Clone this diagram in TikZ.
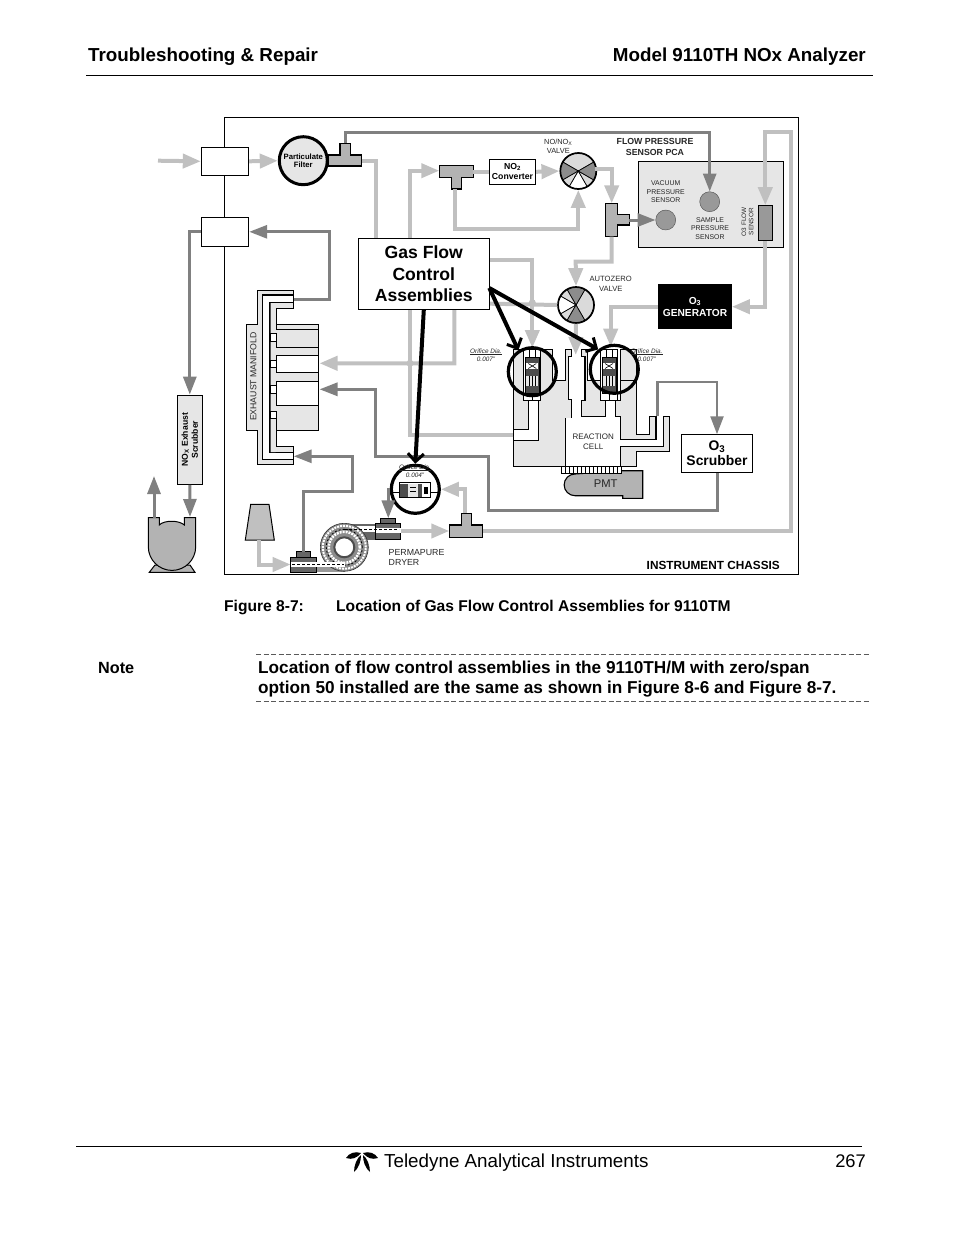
\documentclass[tikz,border=0pt]{standalone}
\usepackage{fontspec}
\setmainfont{Liberation Sans}
\usetikzlibrary{arrows.meta}
\definecolor{lgpipe}{HTML}{C0C0C0}
\definecolor{dkpipe}{HTML}{808080}
\definecolor{panel}{HTML}{E6E6E6}
\definecolor{fitting}{HTML}{B3B3B3}
\definecolor{sensor}{HTML}{999999}
\definecolor{valvedk}{HTML}{8C8C8C}
\definecolor{valvelt}{HTML}{DADADA}
\newcommand{\fs}[1]{\fontsize{#1}{#1}\selectfont}
\tikzset{
 lgline/.style={lgpipe,line width=4pt},
 dkline/.style={dkpipe,line width=3pt},
 lgflow/.style={lgline,-{Triangle[length=18pt,width=14pt]}},
 dkflow/.style={dkline,-{Triangle[length=18pt,width=13pt]}},
 callout/.style={black,line width=4pt,-{Straight Barb[length=8pt,width=16pt,line width=3pt]}},
 boxnode/.style={draw,fill=white,line width=.9pt,inner sep=0pt,align=center},
 lbl/.style={inner sep=0pt,align=center,text=black!85},
 tee/.style={draw,fill=fitting,line width=1.3pt},
 valve/.style={circle,draw,line width=1.7pt,inner sep=0pt,minimum size=36pt},
 orifice/.style={circle,draw,line width=3.2pt,inner sep=0pt,minimum size=48pt},
 gauge/.style={circle,draw=black!70,fill=sensor,inner sep=0pt,minimum size=20pt},
 body/.style={draw,fill=panel,line width=.9pt},
}
\begin{document}
\begin{tikzpicture}[x=1pt,y=-1pt]
\useasboundingbox (0,0) rectangle (954,1235);
%
% page furniture
\node[anchor=base west,inner sep=0pt,font=\bfseries\fs{18.8}] (headl) at (88,61) {Troubleshooting \& Repair};
\node[anchor=base east,inner sep=0pt,font=\bfseries\fs{18.8}] (headr) at (866,61) {Model 9110TH NOx Analyzer};
\coordinate (rulea) at (86,75.5);
\coordinate (ruleb) at (873,75.5);
\draw[line width=1.4pt] (rulea)--(ruleb);
\node[anchor=base west,inner sep=0pt,font=\bfseries\fs{15.6}] (figno) at (224,611.5) {Figure 8-7:};
\node[anchor=base west,inner sep=0pt,font=\bfseries\fs{15.6}] (figcap) at (336,611.5) {Location of Gas Flow Control Assemblies for 9110TM};
\node[anchor=base west,inner sep=0pt,font=\bfseries\fs{16.2}] (notehd) at (98,673) {Note};
\node[anchor=base west,inner sep=0pt,font=\bfseries\fs{17.2}] (notea) at (258,673) {Location of flow control assemblies in the 9110TH/M with zero/span};
\node[anchor=base west,inner sep=0pt,font=\bfseries\fs{17.2}] (noteb) at (258,693) {option 50 installed are the same as shown in Figure 8-6 and Figure 8-7.};
\foreach \y in {654.5,701.5}
\draw[black!65,line width=.7pt,dash pattern=on 5pt off 2.5pt] (256,\y)--(870,\y);
\coordinate (foota) at (76,1146.5);
\coordinate (footb) at (862,1146.5);
\draw[line width=1pt] (foota)--(footb);
\node[anchor=base west,inner sep=0pt,font=\fs{18.8}] (footl) at (384,1167.5) {Teledyne Analytical Instruments};
\node[anchor=base east,inner sep=0pt,font=\fs{18.3}] (footn) at (866,1167.5) {267};
% logo
\foreach \s in {1,-1}{
\fill[black] (362+\s*1,1153) .. controls (362+\s*7,1151) and (362+\s*13,1153) .. (362+\s*16,1158) .. controls (362+\s*10,1160) and (362+\s*5,1158) .. cycle;
\fill[black] (362+\s*1,1155) .. controls (362+\s*5,1158) and (362+\s*8,1165) .. (362+\s*8,1172) .. controls (362+\s*3,1168) and (362+\s*1,1161) .. cycle;
}
%
% chassis
\draw[line width=1pt] (224.5,117.5) rectangle (798.5,574.3);
\node[anchor=base east,inner sep=0pt,font=\bfseries\fs{11.8}] (chassis) at (780,569) {INSTRUMENT CHASSIS};
%
\node[boxnode,minimum width=47.5pt,minimum height=28pt] (intake) at (225,161.3) {};
\node[boxnode,minimum width=47.5pt,minimum height=29pt] (exhbox) at (225,231.8) {};
\node[circle,draw,fill=panel,line width=3pt,inner sep=0pt,minimum size=48pt,font=\bfseries\fs{7.7},align=center] (filter) at (303.3,160.7) {Particulate\\[1pt]Filter};
\node[boxnode,minimum width=46.4pt,minimum height=25pt,font=\bfseries\fs{8.7}] (noconv) at (512.5,171.8) {NO\textsubscript{2}\\[1.5pt]Converter};
\node[body,line width=1.3pt,minimum width=145pt,minimum height=85.6pt,inner sep=0pt] (pca) at (710.8,204.5) {};
\node[gauge] (vacuum) at (665.7,220) {};
\node[gauge] (sample) at (709.7,201.7) {};
\node[draw,fill=sensor,line width=1pt,minimum width=14pt,minimum height=34.6pt,inner sep=0pt] (flowsen) at (765.3,223) {};
\node[fill=black,text=white,minimum width=73.4pt,minimum height=45.3pt,inner sep=0pt,align=center,font=\bfseries\fs{10.2}] (ozgen) at (695,306.7) {O\textsubscript{3}\\[2pt]GENERATOR};
\node[boxnode,minimum width=70.6pt,minimum height=37.6pt,font=\bfseries\fs{13.9}] (ozscrub) at (717,453.5) {O\textsubscript{3}\\[1.5pt]Scrubber};
\node[boxnode,fill=panel,rotate=90,minimum width=89.3pt,minimum height=25pt,font=\bfseries\fs{8.6}] (scrubber) at (189.8,439.7) {NO\textsubscript{X} Exhaust\\[1.5pt]Scrubber};
%
% text on the sensors and valves
\foreach \n/\x/\y/\t in {
 vactxt/665.7/192/VACUUM\\[1.6pt]PRESSURE\\[1.6pt]SENSOR,
 samtxt/710/228.3/SAMPLE\\[1.6pt]PRESSURE\\[1.6pt]SENSOR}
\node[lbl,font=\fs{6.9}] (\n) at (\x,\y) {\t};
\node[lbl,font=\fs{6.4},rotate=90] (flowtxt) at (747.5,221.7) {O3 FLOW\\[1pt]SENSOR};
\node[lbl,font=\fs{7.4}] (novtxt) at (558.3,146) {NO/NO\textsubscript{X}\\[1.5pt]VALVE};
\node[lbl,font=\bfseries\fs{8.8}] (pcatxt) at (655,147) {FLOW PRESSURE\\[2.2pt]SENSOR PCA};
\node[lbl,font=\fs{7.6}] (aztxt) at (610.7,284) {AUTOZERO\\[2.5pt]VALVE};
\node[anchor=west,lbl,align=left,font=\fs{8.8}] (permtxt) at (388.5,557.5) {PERMAPURE\\[1.2pt]DRYER};
%
% valves
\coordinate (novc) at (578.3,171);
\coordinate (azvc) at (576,305);
\foreach \a/\b/\c in {30/150/valvelt,150/210/valvedk,210/240/valvelt,240/300/white,300/330/valvelt,330/390/valvedk}
\filldraw[fill=\c,draw=black,line width=.7pt] (novc)--+(\a:18pt) arc[start angle=\a,end angle=\b,radius=18pt]--cycle;
\foreach \a/\b/\c in {-60/60/valvelt,60/120/valvedk,120/150/valvelt,150/210/white,210/240/valvelt,240/300/valvedk}
\filldraw[fill=\c,draw=black,line width=.7pt] (azvc)--+(\a:18pt) arc[start angle=\a,end angle=\b,radius=18pt]--cycle;
\node[valve] (novalve) at (novc) {};
\node[valve] (azvalve) at (azvc) {};
%
% tee fittings
\draw[tee] (328.3,155)--(340,155)--(340,143.3)--(350.7,143.3)--(350.7,155)--(361.7,155)--(361.7,166)--(328.3,166)--cycle;
\draw[tee] (439.3,165.7)--(473.3,165.7)--(473.3,177.3)--(461.7,177.3)--(461.7,189)--(451.7,189)--(451.7,177.3)--(439.3,177.3)--cycle;
\draw[tee] (605.7,203.3)--(617.7,203.3)--(617.7,214.3)--(629.3,214.3)--(629.3,225)--(617.7,225)--(617.7,236.7)--(605.7,236.7)--cycle;
\draw[tee] (449.3,525)--(461.7,525)--(461.7,513.3)--(471.7,513.3)--(471.7,525)--(482.7,525)--(482.7,537.7)--(449.3,537.7)--cycle;
\foreach \n/\x/\y in {teeat/345/143.3,teear/361.7/160.7,teebl/439.3/170.7,teebr/473.3/171.8,teebb/455/189,teect/611.7/203.3,teecr/629.3/220,teecb/611.7/236.7,teedl/449.3/531,teedr/482.7/531,teedt/465/513.3}
\coordinate (\n) at (\x,\y);
%
% manifold
\begin{scope}[line width=.9pt]
\draw[fill=panel] (257.7,290.7)--(293.3,290.7)--(293.3,308)--(276,308)--(276,324)--(318.3,324)--(318.3,430)--(276,430)--(276,446.7)--(293.3,446.7)--(293.3,464)--(257.3,464)--(257.3,430)--(246.7,430)--(246.7,324)--(257.7,324)--cycle;
\draw[fill=white,line width=1.2pt] (262.7,295)--(293.3,295)--(293.3,302.3)--(270,302.3)--(270,452.7)--(293.3,452.7)--(293.3,459.3)--(262.7,459.3)--cycle;
\fill[panel] (270.5,303)--(292.8,303)--(292.8,307.5)--(275.5,307.5)--(275.5,452)--(270.5,452)--cycle;
\foreach \a/\b in {355.7/372.3,381.7/405.7}
\fill[white] (276.5,\a) rectangle (317.8,\b);
\foreach \a/\b in {333.3/341.7,360/367.7,385/393.3,411.7/418.3}
\draw[fill=white] (270,\a) rectangle (276,\b);
\foreach \y in {329,347.3,355.7,381.7,405.7}
\draw (276,\y)--(318.3,\y);
\draw[line width=1.5pt] (276,372.3)--(318.3,372.3);
\foreach \a/\b in {308/329,341.7/347.3,355.7/360,367.7/372.3,381.7/385,393.3/405.7,418.3/430}
\draw (276,\a)--(276,\b);
\end{scope}
\node[lbl,font=\fs{8.7},rotate=90] (mantxt) at (253.3,376.7) {EXHAUST MANIFOLD};
\coordinate (mantop) at (293.7,299);
\coordinate (manbot) at (293.7,456.3);
\coordinate (manlg) at (319.5,363.3);
\coordinate (mandk) at (319.5,389.3);
%
% pump and funnel
\draw[body,fill=fitting,line width=1pt] (155,565)--(149.3,572.3)--(195,572.3)--(190,565)--cycle;
\draw[body,fill=fitting,line width=1pt] (148.3,517.7)--(159.3,517.7)--(159.3,525) .. controls (164,520) and (179,520) .. (184.3,525)--(184.3,517.7)--(195.7,517.7)--(195.7,546.7) arc[start angle=0,end angle=-180,radius=23.7pt]--cycle;
\coordinate (pumpin) at (190,517);
\coordinate (pumpout) at (154,517.7);
\coordinate (pumptop) at (154,476);
\draw[body,fill=lgpipe,line width=1pt] (250.7,504.3)--(269,504.3)--(274.3,540)--(245.3,540)--cycle;
\coordinate (funnel) at (259.3,540);
%
% dryer
\begin{scope}
\fill[black!60] (344,523.5) rectangle (376,540);
\fill[white] (344,526) rectangle (376,532);
\fill[black!40] (316,562) rectangle (345,572);
\filldraw[fill=black!45,draw=black!80,line width=.6pt] (344.3,547.3) circle[radius=24pt];
\draw[white,line width=2pt,dash pattern=on 2pt off 1pt] (344.3,547.3) circle[radius=21.5pt];
\draw[black,line width=.8pt,dash pattern=on 2pt off 2pt] (344.3,547.3) circle[radius=18pt];
\draw[white,line width=2.5pt,dash pattern=on 2pt off 1pt] (344.3,547.3) circle[radius=15.5pt];
\filldraw[fill=white,draw=black!70,line width=2pt] (344.3,547.3) circle[radius=10pt];
\filldraw[fill=black!60,draw=black,line width=.6pt] (375.7,523.3) rectangle (400.7,539.3);
\fill[white] (375.7,527.5) rectangle (400.7,533);
\filldraw[fill=black!60,draw=black,line width=.6pt] (380.7,518.3) rectangle (395,523.3);
\filldraw[fill=black!60,draw=black,line width=.6pt] (290.7,557) rectangle (316.7,572);
\fill[white] (290.7,562) rectangle (345,567);
\filldraw[fill=black!60,draw=black,line width=.6pt] (296.7,551.7) rectangle (310,557);
\draw[black,line width=.7pt,dash pattern=on 3pt off 2pt] (292,564.5)--(344,564.5);
\draw[black,line width=.7pt,dash pattern=on 3pt off 2pt] (344,529.5)--(399,529.5);
\end{scope}
\coordinate (dryl) at (290.7,564.5);
\coordinate (dryr) at (400.7,531);
\coordinate (dryct) at (303.3,552);
\coordinate (drycr) at (388.3,518.3);
%
% reaction cell
\begin{scope}[line width=.9pt]
\draw[body] (513.3,349.3)--(552.7,349.3)--(552.7,380.7)--(565,380.7)--(565,349.3)--(571,349.3)--(571,356)--(568.3,356)--(568.3,399.3)--(571,399.3)--(571,418.3)--(565.7,418.3)--(565.7,466)--(513.3,466)--cycle;
\draw[fill=white] (528.3,400)--(528.3,429.3)--(513.3,429.3)--(513.3,440)--(538.7,440)--(538.7,400)--cycle;
\draw[line width=1.5pt] (513.3,429.3)--(528.3,429.3)--(528.3,400);
\draw[body] (581.7,349.3)--(587.3,349.3)--(587.3,380.7)--(603,380.7)--(603,400)--(605.7,400)--(605.7,416.7)--(581.7,416.7)--(581.7,400)--(585,400)--(585,356)--(581.7,356)--cycle;
\draw[body] (620.7,349.3)--(636,349.3)--(636,434.3)--(649.3,434.3)--(649.3,416)--(656,416)--(656,439.3)--(620.7,439.3)--(620.7,416.7)--(615,416.7)--(615,400)--(620.7,400)--cycle;
\draw[line width=1.5pt] (620.7,416.7)--(620.7,439.3)--(656,439.3)--(656,416);
\draw[line width=1.5pt] (620.7,380.7)--(636,380.7);
\draw[line width=1.5pt] (552.7,380.7)--(565,380.7);
\draw[line width=1.5pt] (587.3,380.7)--(603,380.7);
\draw[line width=1.5pt] (585,356)--(585,400);
\draw[body] (620.7,446.7)--(663.3,446.7)--(663.3,416)--(669.3,416)--(669.3,451.7)--(636,451.7)--(636,466)--(620.7,466)--cycle;
\end{scope}
\node[fill=white,lbl,minimum width=54pt,minimum height=47pt,font=\fs{8}] (rxcell) at (593.2,441.8) {REACTION\\[1.5pt]CELL};
\draw[line width=.9pt] (565.7,418)--(565.7,466)--(620.7,466);
% the fitting under each circle
\foreach \x in {532.3,609}{
\filldraw[fill=white,draw=black,line width=.8pt] (\x-8.5,349.3) rectangle (\x+8.5,400);
\draw[line width=.7pt] (\x-3,349.3)--(\x-3,357) (\x+3,349.3)--(\x+3,357) (\x,393)--(\x,400);
\filldraw[fill=black!70,draw=black,line width=1pt] (\x-7,357) rectangle (\x+7,393);
\fill[white] (\x-6,363) rectangle (\x+6,369);
\draw[line width=.6pt] (\x-4,363.5)--(\x+4,368.5) (\x-4,368.5)--(\x+4,363.5);
\fill[panel] (\x-6,376) rectangle (\x+6,386);
\draw[line width=.6pt] (\x-3,376)--(\x-3,386) (\x,376)--(\x,386) (\x+3,376)--(\x+3,386);
}
% PMT
\draw[body,fill=fitting,line width=1.1pt] (575,474)--(622.7,470.7)--(642.7,470.7)--(642.7,498.3)--(622.7,498.3)--(622.7,495.7)--(575,495.7) arc[start angle=270,end angle=90,radius=10.85pt]--cycle;
\node[lbl,font=\fs{11.2}] (pmttxt) at (605.7,484) {PMT};
\draw[fill=white,line width=.9pt] (561.7,466.5) rectangle (621.7,473);
\foreach \x in {565,569,...,621}
\draw[line width=.7pt] (\x,466.5)--(\x,473);
%
\foreach \n/\x/\y in {rxin/513.3/434.7,azcell/575.7/355,ozcell/610.7/346.7,lfcell/532.3/348,rxout/657.3/416}
\coordinate (\n) at (\x,\y);
%
% light pipes
\coordinate (inlet) at (158,160.7);
\draw[lgflow] (inlet)--(intake.west);
\draw[lgflow] (intake.east)--(filter.west);
\draw[lgline] (teear)--(375.7,160.7)--(375.7,260);
\draw[lgflow] (rxin)--(410,434.7)--(410,170.7)--(teebl);
\draw[lgline] (teebr)--(noconv.west);
\draw[lgflow] (noconv.east)--(novalve.west);
\draw[lgflow] (teebb)|-(578.3,229.3)--(novalve.south);
\draw[lgflow] (595,169.3)-|(teect);
\draw[lgflow] (teecb)|-(575.7,261.7)--(azvalve.north);
\draw[lgflow] (azvalve.south)--(azcell);
\draw[lgflow] (azvalve.west)--(454.3,303)--(454.3,363.3)--(manlg);
\draw[lgflow] (470,260)--(532.3,260)--(lfcell);
\draw[lgflow] (ozgen.west)-|(ozcell);
\draw[lgflow] (flowsen.south)|-(ozgen.east);
\draw[lgflow] (teedr)--(790.5,531)--(790.5,131.7)--(765.3,131.7)--(flowsen.north);
\draw[lgflow] (funnel)|-(dryl);
\draw[lgflow] (dryr)--(teedl);
\foreach \x/\y in {410/363.3,532.3/302.7}
\fill[lgpipe] (\x,\y) circle[radius=3.5pt];
%
% dark pipes
\draw[dkflow] (teeat)--(345,132.7)-|(sample.north);
\draw[dkflow] (teecr)--(vacuum.west);
\draw[dkflow] (exhbox.west)-|(scrubber.east);
\draw[dkflow] (scrubber.west)--(pumpin);
\draw[dkflow] (pumpout)--(pumptop);
\draw[dkflow] (mantop)--(329,299)|-(exhbox.east);
\draw[dkflow] (dryct)|-(352,491.7)|-(manbot);
\draw[dkflow] (ozscrub.south)|-(488.3,510.7)--(488.3,456.7)--(375,456.7)--(375,389.3)--(mandk);
\draw[dkflow,line width=2.4pt] (rxout)--(657.3,381.7)-|(ozscrub.north);
%
% orifices
\node[orifice] (orifl) at (532.3,371.7) {};
\node[orifice] (orifr) at (614.3,369.3) {};
\node[orifice,fill=white] (orifb) at (415.3,489.3) {};
\filldraw[fill=white,draw=black,line width=.9pt] (399.3,482.7) rectangle (430,497.3);
\fill[black!70] (400,483.5) rectangle (408,496.5);
\fill[panel] (408,483.5) rectangle (418,496.5);
\fill[black!70] (418,483.5) rectangle (422,496.5);
\fill[black] (424,487) rectangle (428,494);
\draw[line width=.7pt] (391,492.7)--(399.3,492.7) (430,492.7)--(439,492.7) (410,487)--(416,487) (410,491)--(416,491);
\draw[dkflow] (orifb.west)-|(drycr);
\draw[lgflow] (teedt)|-(orifb.east);
\foreach \n/\x/\y/\t in {ofa/486/355/0.007",ofb/646.7/355/0.007",ofc/415/471/0.004"}
\node[lbl,font=\itshape\fs{6.4}] (\n) at (\x,\y) {\underline{Orifice Dia.}\\[1pt]\t};
%
% callout
\node[boxnode,minimum width=131pt,minimum height=71pt,font=\bfseries\fs{17.6},align=center] (gasbox) at (423.8,273.8) {Gas Flow\\[4pt]Control\\[4pt]Assemblies};
\coordinate (gascorner) at (489.3,288);
\draw[callout] (gasbox.south)--(orifb.north);
\draw[callout] (gascorner)--(orifl.123);
\draw[callout] (gascorner)--(orifr.129);
%
\end{tikzpicture}
\end{document}
